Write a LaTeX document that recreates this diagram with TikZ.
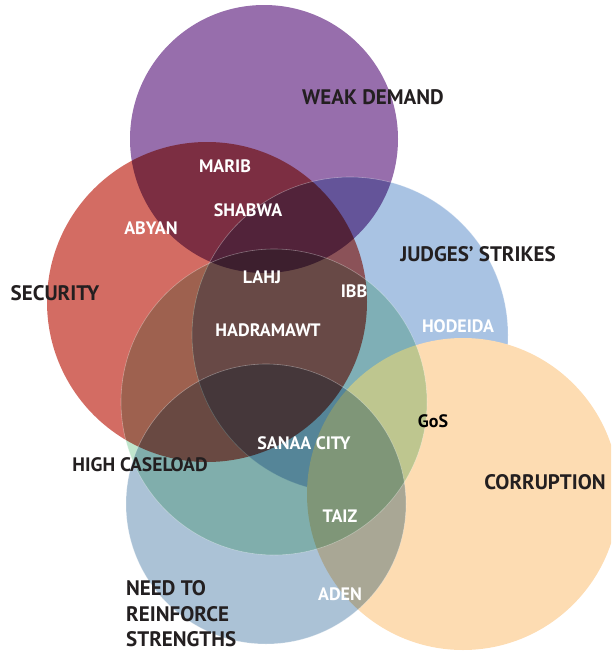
\documentclass[tikz,border=0pt]{standalone}
\usepackage{fontspec}
\setmainfont{PT Sans}
\definecolor{cpurple}{HTML}{976EAC}
\definecolor{cred}{HTML}{D36C63}
\definecolor{cblue}{HTML}{A9C3E3}
\definecolor{cteal}{HTML}{C0E6CD}
\definecolor{clblue}{HTML}{ABC2D6}
\definecolor{corange}{HTML}{FDDCB2}
\definecolor{cink}{HTML}{231F20}
\tikzset{
  disc/.style={circle, inner sep=0pt, draw=none, minimum size=#1},
  edge/.style={draw=white, draw opacity=0.35, line width=0.6pt},
  blab/.style={text=cink, font=\fontsize{21}{23}\selectfont\bfseries, inner sep=0pt},
  slab/.style={text=cink, font=\fontsize{19.5}{21}\selectfont\bfseries, inner sep=0pt},
  wlab/.style={text=white, font=\fontsize{18}{20}\selectfont\bfseries, inner sep=0pt},
}
\begin{document}
\begin{tikzpicture}[x=1pt,y=-1pt]
\useasboundingbox (0,0) rectangle (611,653);
\begin{scope}[transparency group]
  \clip (0,0) rectangle (611,653);
  \begin{scope}[blend mode=multiply]
    \node[disc=268pt, fill=cpurple] (weak) at (264,139) {};
    \node[disc=320pt, fill=cred] (sec) at (207,302) {};
    \node[disc=316pt, fill=cblue] (judges) at (350,335) {};
  \end{scope}
  \draw[edge] (judges.center) circle[radius=158pt];
  \node[disc=312pt, fill=corange] (corr) at (463,494) {};
  \begin{scope}[blend mode=multiply]
    \node[disc=306pt, fill=cteal] (caseload) at (274,402) {};
    \node[disc=280pt, fill=clblue] (need) at (266,504) {};
  \end{scope}
  \draw[edge] (caseload.center) circle[radius=153pt];
  \draw[edge] (need.center) circle[radius=140pt];
\end{scope}

\node[blab] (lweak) at (373,97) {WEAK DEMAND};
\node[blab] (ljudges) at (478,254) {JUDGES’ STRIKES};
\node[blab] (lsec) at (55,293) {SECURITY};
\node[slab] (lcase) at (140,465) {HIGH CASELOAD};
\node[blab] (lcorr) at (545,482) {CORRUPTION};
\node[blab, anchor=west, align=left, font=\fontsize{21}{25.5}\selectfont\bfseries] (lneed) at (126,614) {NEED TO\\REINFORCE\\STRENGTHS};

\node[wlab] (marib) at (225,166) {MARIB};
\node[wlab] (shabwa) at (248,210) {SHABWA};
\node[wlab] (abyan) at (151,228) {ABYAN};
\node[wlab] (lahj) at (262,277) {LAHJ};
\node[wlab] (ibb) at (354,291) {IBB};
\node[wlab] (hadra) at (268,330) {HADRAMAWT};
\node[wlab] (hodeida) at (458,326) {HODEIDA};
\node[wlab] (sanaa) at (304,443) {SANAA CITY};
\node[wlab, text=black] (gos) at (433,421) {GoS};
\node[wlab] (taiz) at (340,516) {TAIZ};
\node[wlab] (aden) at (340,594) {ADEN};
\end{tikzpicture}
\end{document}
